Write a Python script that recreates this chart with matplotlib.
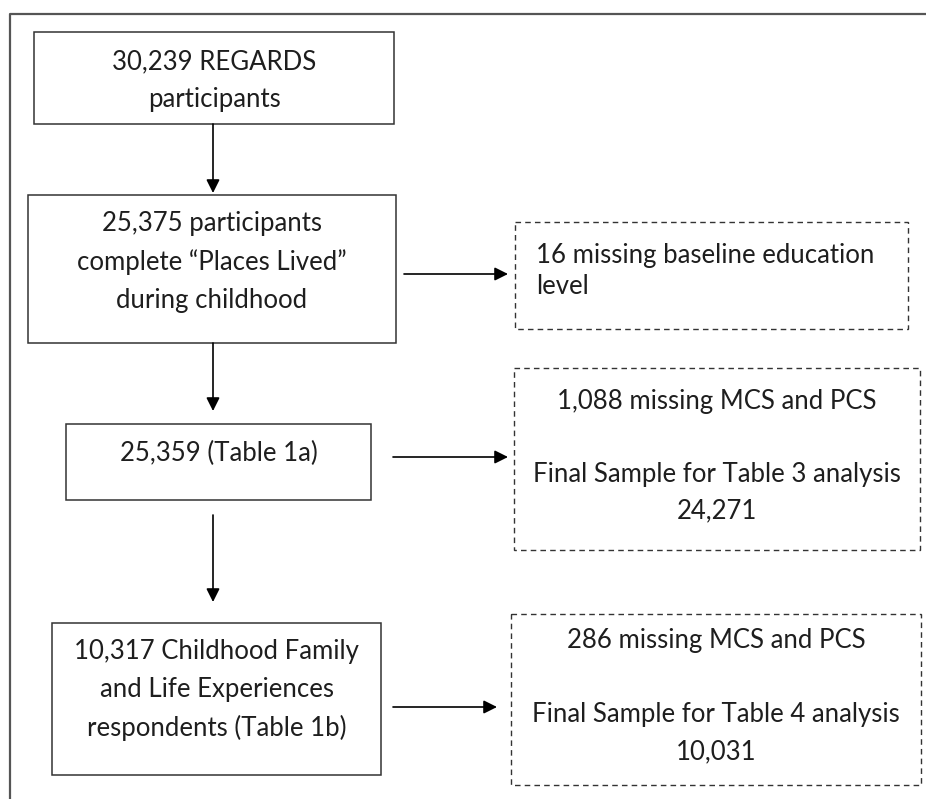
import matplotlib.pyplot as plt
from matplotlib.patches import Rectangle

plt.rcParams['font.family'] = ['Lato', 'DejaVu Sans']

W, H = 926, 799

# box texts
main_labels = [
    "30,239 REGARDS\nparticipants",
    "25,375 participants\ncomplete \u201cPlaces Lived\u201d\nduring childhood",
    "25,359 (Table 1a)",
    "10,317 Childhood Family\nand Life Experiences\nrespondents (Table 1b)",
]
side_labels = [
    "16 missing baseline education\nlevel",
    "1,088 missing MCS and PCS\n\nFinal Sample for Table 3 analysis\n24,271",
    "286 missing MCS and PCS\n\nFinal Sample for Table 4 analysis\n10,031",
]

# layout in pixels (x0, x1, y0, y1), y downwards
main_boxes = [(34, 394, 32, 124), (28, 396, 195, 343),
              (66, 371, 424, 500), (52, 381, 623, 775)]
main_text_y = [81, 262, 453, 690]
side_boxes = [(515, 908, 222, 329), (514, 920, 368, 550), (511, 921, 614, 785)]
side_text_y = [271, 456, 696]
side_spacing = [1.3, 1.58, 1.6]
down_arrows = [(124, 193), (343, 411), (515, 602)]
right_arrows = [(274, 404, 508), (457, 393, 508), (707, 393, 497)]

fig = plt.figure(figsize=(W / 100, H / 100), dpi=100)
ax = fig.add_axes([0, 0, 1, 1])
ax.set_xlim(0, W)
ax.set_ylim(H, 0)
ax.axis('off')

# outer frame (runs off the picture on the right and bottom)
ax.plot([10, 10, W + 5], [H + 5, 14, 14], color='#555555', lw=1.6)

txt_kw = dict(fontsize=18.5, color='#1e1e1e')

for (x0, x1, y0, y1), label, ty in zip(main_boxes, main_labels, main_text_y):
    ax.add_patch(Rectangle((x0, y0), x1 - x0, y1 - y0, fill=False,
                           ec='#333333', lw=1.1))
    ax.text((x0 + x1) / 2, ty, label, ha='center', va='center',
            linespacing=1.65, **txt_kw)

for i, ((x0, x1, y0, y1), label, ty) in enumerate(zip(side_boxes, side_labels, side_text_y)):
    ax.add_patch(Rectangle((x0, y0), x1 - x0, y1 - y0, fill=False,
                           ec='#333333', lw=1.0, ls=(0, (4, 3))))
    if i == 0:
        ax.text(x0 + 21, ty, label, ha='left', va='center',
                linespacing=side_spacing[i], **txt_kw)
    else:
        ax.text((x0 + x1) / 2, ty, label, ha='center', va='center',
                multialignment='center', linespacing=side_spacing[i], **txt_kw)

arrow_kw = dict(arrowstyle='-|>', color='black', lw=1.2,
                mutation_scale=20, shrinkA=0, shrinkB=0)
for y0, y1 in down_arrows:
    ax.annotate('', xy=(213, y1), xytext=(213, y0), arrowprops=arrow_kw)
for y, x0, x1 in right_arrows:
    ax.annotate('', xy=(x1, y), xytext=(x0, y), arrowprops=arrow_kw)

fig.savefig('out.png', dpi=100)
